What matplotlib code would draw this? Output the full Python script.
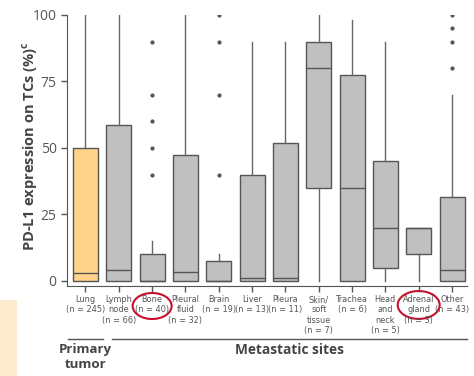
import matplotlib.pyplot as plt
from matplotlib.patches import Ellipse, Rectangle
from matplotlib.lines import Line2D

# data
sites = ["Lung\n(n = 245)", "Lymph\nnode\n(n = 66)", "Bone\n(n = 40)", "Pleural\nfluid\n(n = 32)",
         "Brain\n(n = 19)", "Liver\n(n = 13)", "Pleura\n(n = 11)", "Skin/\nsoft\ntissue\n(n = 7)",
         "Trachea\n(n = 6)", "Head\nand\nneck\n(n = 5)", "Adrenal\ngland\n(n = 3)", "Other\n(n = 43)"]
whislo = [0, 0, 0, 0, 0, 0, 0, 0, 0, 0, 0, 0]
q1 = [0, 0, 0, 0, 0, 0, 0, 35, 0, 5, 10, 0]
med = [3, 4, 0, 3.5, 0, 1, 1, 80, 35, 20, 20, 4]
q3 = [50, 58.5, 10, 47.5, 7.5, 40, 52, 90, 77.5, 45, 20, 31.5]
whishi = [100, 100, 15, 100, 10, 90, 90, 100, 98, 90, 20, 70]
fliers = [[], [], [40, 50, 60, 70, 90], [], [40, 70, 90, 100], [], [], [], [], [], [], [80, 90, 95, 100]]

gray_fill = "#c0c0c0"
lung_fill = "#ffd38a"
edge = "#555555"

plt.rcParams["font.family"] = ["Open Sans", "DejaVu Sans"]

fig = plt.figure(figsize=(4.74, 3.76), dpi=100)
ax = fig.add_axes([67 / 474, 1 - 286 / 376, 400 / 474, 271 / 376])

stats = []
for i in range(len(sites)):
    stats.append(dict(whislo=whislo[i], q1=q1[i], med=med[i], q3=q3[i],
                      whishi=whishi[i], fliers=fliers[i]))

pos = list(range(len(sites)))
bp = ax.bxp(stats, positions=pos, widths=0.75, patch_artist=True, showcaps=False,
            boxprops=dict(edgecolor=edge, linewidth=1.0),
            medianprops=dict(color=edge, linewidth=1.0),
            whiskerprops=dict(color="#666666", linewidth=1.0),
            flierprops=dict(marker="o", markersize=2, markerfacecolor="#555555",
                            markeredgecolor="#555555"))
for i, b in enumerate(bp["boxes"]):
    b.set_facecolor(lung_fill if i == 0 else gray_fill)

ax.set_xlim(-0.555, 11.45)
ax.set_ylim(-1.9, 100)
ax.set_yticks([0, 25, 50, 75, 100])
ax.set_xticks(pos)
ax.set_xticklabels(sites, fontsize=5.9, color="#555555", family="DejaVu Sans", linespacing=1.2)
ax.tick_params(axis="y", labelsize=10, colors="#555555", length=4, width=1)
ax.tick_params(axis="x", length=4, width=1, color="#555555", pad=2.5)
for s in ["top", "right"]:
    ax.spines[s].set_visible(False)
for s in ["left", "bottom"]:
    ax.spines[s].set_color("#555555")
ax.spines["left"].set_bounds(-1.9, 100)

fig.text(30 / 474, 1 - 146 / 376, "PD-L1 expression on TCs (%)$^{\\mathregular{c}}$", rotation=90,
         ha="center", va="center", fontsize=10.5, fontweight="bold", color="#444444")

# red circles
tr = ax.get_xaxis_transform()
for cx, cy, w, h in [(2, -0.0738, 1.17, 0.096), (10, -0.070, 1.26, 0.103)]:
    ax.add_patch(Ellipse((cx, cy), w, h, transform=tr, fill=False, edgecolor="#c8102e",
                         linewidth=1.5, clip_on=False))

# group lines and labels
for x0, x1 in [(-0.525, 0.525), (0.796, 11.45)]:
    ax.add_line(Line2D([x0, x1], [-0.1956, -0.1956], transform=tr, color="#555555",
                       linewidth=1.0, clip_on=False))
ax.text(0.0, -0.212, "Primary\ntumor", transform=tr, ha="center", va="top", fontsize=9.5,
        fontweight="bold", color="#444444", linespacing=1.15)
ax.text(6.12, -0.212, "Metastatic sites", transform=tr, ha="center", va="top", fontsize=9.8,
        fontweight="bold", color="#444444")

fig.patches.append(Rectangle((0, 0), 17 / 474, 76 / 376, transform=fig.transFigure,
                             facecolor="#fdebcf", edgecolor="none"))

fig.savefig("out.png", dpi=100)
